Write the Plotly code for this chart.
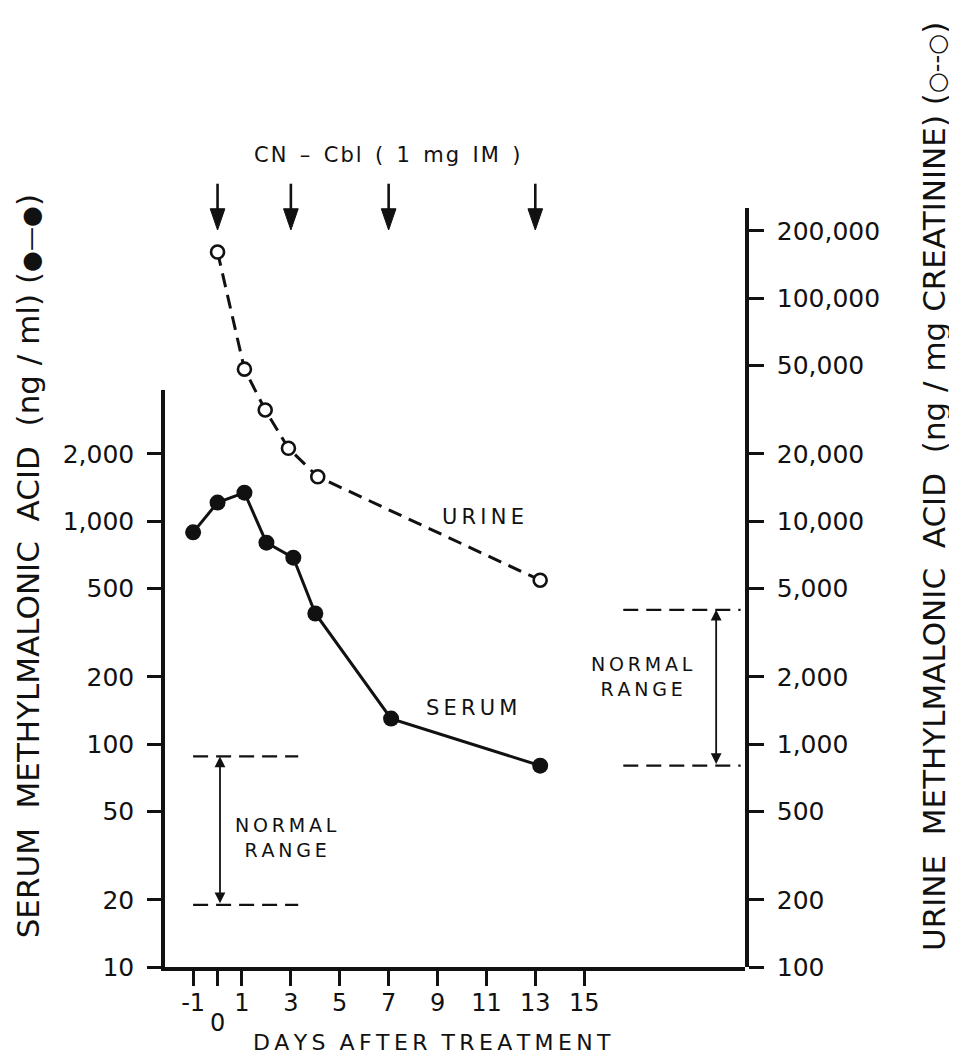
import math
import plotly.graph_objects as go

# ---------------- data ----------------
serum_days = [-1, 0, 1.1, 2, 3.1, 4, 7.1, 13.2]
serum_mma = [890, 1210, 1340, 800, 685, 385, 130, 80]          # ng/ml

urine_days = [0, 1.1, 1.95, 2.9, 4.1, 13.2]
urine_mma = [161000, 48000, 31500, 21200, 15800, 5430]         # ng/mg creatinine

dose_days = [0, 3, 7, 13]                                      # CN-Cbl 1 mg IM

serum_normal = [19, 88]
urine_normal = [800, 4000]

x_tickvals = [-1, 0, 1, 3, 5, 7, 9, 11, 13, 15]
x_ticktext = ["-1", "", "1", "3", "5", "7", "9", "11", "13", "15"]

serum_tickvals = [10, 20, 50, 100, 200, 500, 1000, 2000]
serum_ticktext = ["10", "20", "50", "100", "200", "500", "1,000", "2,000"]

urine_tickvals = [100, 200, 500, 1000, 2000, 5000, 10000, 20000, 50000, 100000, 200000]
urine_ticktext = ["100", "200", "500", "1,000", "2,000", "5,000", "10,000",
                  "20,000", "50,000", "100,000", "200,000"]

# ---------------- figure ----------------
FONT = "DejaVu Sans"
BLACK = "#111111"
THIN = "\u2009"
HAIR = "\u200a"


def spaced(s, sep=THIN):
    """Letter-spaced text (wide tracking like the original lettering)."""
    out = []
    for word in s.split(" "):
        out.append(sep.join(word))
    return "  ".join(out)


fig = go.Figure()

# serum normal range dashed limits
for v in serum_normal:
    fig.add_trace(go.Scatter(x=[-1.0, 3.3], y=[v, v], mode="lines", xaxis="x", yaxis="y",
                             line=dict(color=BLACK, width=2.2, dash="15px,8px"),
                             hoverinfo="skip", showlegend=False))
# urine normal range dashed limits
for v in urine_normal:
    fig.add_trace(go.Scatter(x=[16.6, 21.4], y=[v, v], mode="lines", xaxis="x", yaxis="y2",
                             line=dict(color=BLACK, width=2.2, dash="15px,8px"),
                             hoverinfo="skip", showlegend=False))

# urine
fig.add_trace(go.Scatter(x=urine_days, y=urine_mma, mode="lines+markers", xaxis="x", yaxis="y2",
                         line=dict(color=BLACK, width=3, dash="14px,8px"),
                         marker=dict(symbol="circle", size=13, color="white",
                                     line=dict(color=BLACK, width=2.6)),
                         cliponaxis=False, showlegend=False, name="URINE"))
# serum
fig.add_trace(go.Scatter(x=serum_days, y=serum_mma, mode="lines+markers", xaxis="x", yaxis="y",
                         line=dict(color=BLACK, width=3),
                         marker=dict(symbol="circle", size=16, color=BLACK),
                         cliponaxis=False, showlegend=False, name="SERUM"))

annotations = []
shapes = []

# dose arrows at top
for d in dose_days:
    shapes.append(dict(type="line", xref="x", yref="paper", x0=d, x1=d, y0=1.032, y1=0.99,
                       line=dict(color=BLACK, width=2.6)))
    shapes.append(dict(type="path", xref="x", yref="paper",
                       path=f"M {d-0.3},0.999 L {d+0.3},0.999 L {d},0.971 Z",
                       fillcolor=BLACK, line=dict(color=BLACK, width=1)))

# normal range double arrows
annotations.append(dict(x=0.1, y=math.log10(serum_normal[1]), ax=0.1, ay=math.log10(serum_normal[0]),
                        xref="x", yref="y", axref="x", ayref="y", text="", showarrow=True,
                        arrowhead=2, arrowside="end+start", arrowsize=1.2, arrowwidth=1.8,
                        arrowcolor=BLACK, standoff=0, startstandoff=0))
annotations.append(dict(x=20.4, y=math.log10(urine_normal[1]), ax=20.4, ay=math.log10(urine_normal[0]),
                        xref="x", yref="y2", axref="x", ayref="y2", text="", showarrow=True,
                        arrowhead=2, arrowside="end+start", arrowsize=1.2, arrowwidth=1.8,
                        arrowcolor=BLACK, standoff=0, startstandoff=0))


def txt(text, x, y, size, xref="paper", yref="paper", angle=0):
    annotations.append(dict(text=text, x=x, y=y, xref=xref, yref=yref, showarrow=False,
                            xanchor="center", yanchor="middle", textangle=angle,
                            font=dict(family=FONT, size=size, color=BLACK)))


txt(spaced("CN – Cbl ( 1 mg IM )", HAIR), 0.383, 1.070, 21)
txt(spaced("URINE"), 0.548, 0.593, 21)
txt(spaced("SERUM"), 0.529, 0.341, 21)
txt(spaced("NORMAL") + "<br>" + spaced("RANGE"), 0.209, 0.170, 19)
txt(spaced("NORMAL") + "<br>" + spaced("RANGE"), 0.822, 0.383, 19)
txt("0", 0, -0.074, 24, xref="x")
txt(spaced("DAYS AFTER TREATMENT"), 0.46, -0.100, 22)
txt("SERUM  METHYLMALONIC  ACID  (ng / ml) (<span style='font-size:24px'>●—●</span>)",
    -0.236, 0.528, 31, angle=-90)
txt("URINE  METHYLMALONIC  ACID  (ng / mg CREATININE) (<span style='font-size:24px'>○--○</span>)",
    1.325, 0.633, 31, angle=-90)

axis_common = dict(showgrid=False, zeroline=False, showline=True, linecolor=BLACK, linewidth=3.5,
                   ticks="outside", tickcolor=BLACK, tickwidth=2.5)

fig.update_layout(
    width=949, height=1048,
    margin=dict(l=157, r=212, t=200, b=89),
    paper_bgcolor="white", plot_bgcolor="rgba(0,0,0,0)",
    showlegend=False,
    xaxis=dict(range=[-2.15, 21.58], tickvals=x_tickvals, ticktext=x_ticktext, ticklen=15,
               anchor="y", ticklabelstandoff=-4,
               tickfont=dict(family=FONT, size=24, color=BLACK), **axis_common),
    yaxis=dict(type="log", range=[1, 3.587], domain=[0, 0.76], tickvals=serum_tickvals,
               ticktext=serum_ticktext, ticklen=14, anchor="x", side="left",
               ticklabelstandoff=8, tickfont=dict(family=FONT, size=25, color=BLACK),
               **axis_common),
    yaxis2=dict(type="log", range=[2, 5.404], domain=[0, 1], tickvals=urine_tickvals,
                ticktext=urine_ticktext, ticklen=15, anchor="x", side="right",
                ticklabelstandoff=8, tickfont=dict(family=FONT, size=25, color=BLACK),
                **axis_common),
    annotations=annotations,
    shapes=shapes,
)

fig.write_html("out.html")
